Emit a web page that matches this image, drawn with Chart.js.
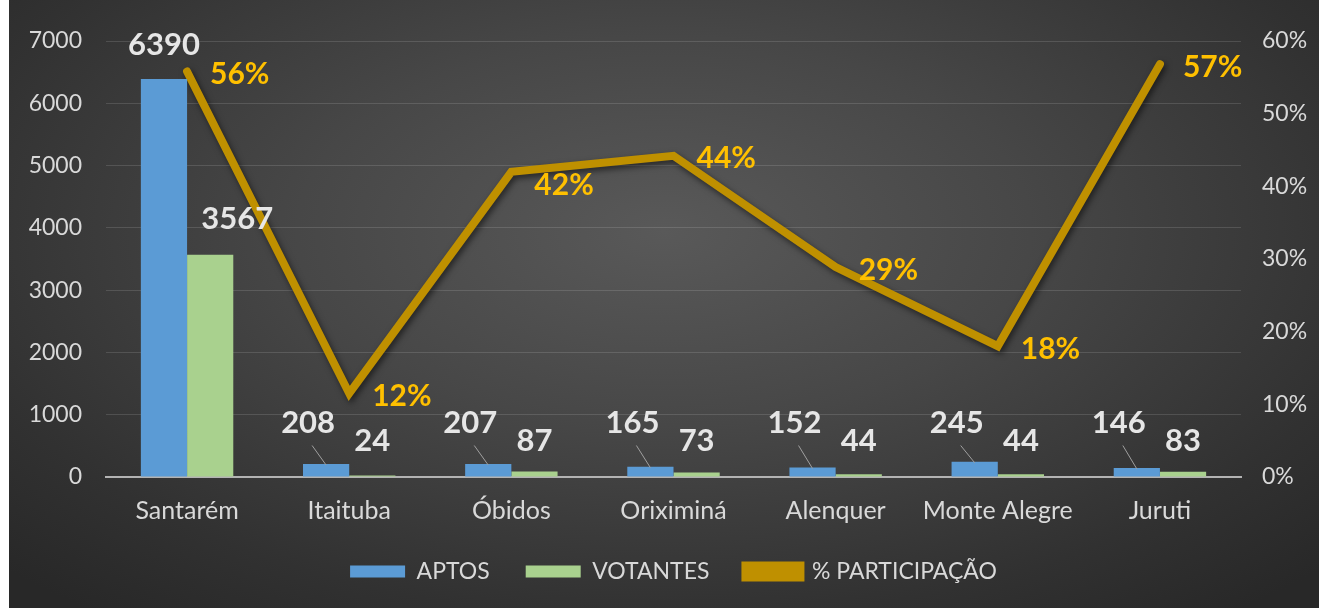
<!DOCTYPE html>
<html>
<head>
<meta charset="utf-8">
<script src="https://cdn.jsdelivr.net/npm/chart.js@4.4.1/dist/chart.umd.min.js"></script>
<style>
  html, body { margin: 0; padding: 0; background: #ffffff; }
  #wrap {
    position: absolute; left: 9px; top: 0; width: 1310px; height: 608px;
    background: radial-gradient(ellipse 70% 80% at 50% 38%, #595959 0%, #474747 40%, #313131 80%, #282828 100%);
  }
</style>
</head>
<body>
<div id="wrap"><canvas id="grafico"></canvas></div>
<script>
// Datos por municipio
const municipios = ['Santarém', 'Itaituba', 'Óbidos', 'Oriximiná', 'Alenquer', 'Monte Alegre', 'Juruti'];
const aptos = [6390, 208, 207, 165, 152, 245, 146];
const votantes = [3567, 24, 87, 73, 44, 44, 83];
const participacao = [0.558, 0.115, 0.42, 0.442, 0.289, 0.18, 0.568];

const ticksEsquerda = [0, 1000, 2000, 3000, 4000, 5000, 6000, 7000];
const ticksDireita = [0, 0.1, 0.2, 0.3, 0.4, 0.5, 0.6];

Chart.defaults.font.family = 'Lato';

const corTexto = '#d9d9d9';
const ouro = '#bf9000';

// sombra por baixo da linha
const sombraLinha = {
    id: 'sombraLinha',
    beforeDatasetDraw(chart, args) {
        if (args.index !== 2) return;
        const c = chart.ctx;
        c.save();
        c.shadowColor = 'rgba(0,0,0,0.55)';
        c.shadowBlur = 6;
        c.shadowOffsetX = 2;
        c.shadowOffsetY = 3;
    },
    afterDatasetDraw(chart, args) {
        if (args.index !== 2) return;
        chart.ctx.restore();
    }
};

// rótulos de valores
const rotulos = {
    id: 'rotulos',
    afterDatasetsDraw(chart) {
        const c = chart.ctx;
        c.save();
        c.textAlign = 'center';
        c.textBaseline = 'middle';

        const mAptos = chart.getDatasetMeta(0);
        const mVot = chart.getDatasetMeta(1);
        const mPart = chart.getDatasetMeta(2);

        c.font = 'bold 31px Lato';
        c.fillStyle = '#e6e6e6';
        mAptos.data.forEach((bar, i) => {
            const alto = bar.base - bar.y > 100;
            if (alto) {
                c.fillText(aptos[i], bar.x, bar.y - 34);
            } else {
                c.fillText(aptos[i], bar.x - 18, bar.base - 54);
                c.strokeStyle = '#a0a0a0';
                c.lineWidth = 1;
                c.beginPath();
                c.moveTo(bar.x - 14, bar.base - 31);
                c.lineTo(bar.x, bar.y + 1);
                c.stroke();
            }
        });
        mVot.data.forEach((bar, i) => {
            const alto = bar.base - bar.y > 100;
            if (alto) {
                c.fillText(votantes[i], bar.x + 27, bar.y - 36);
            } else {
                c.fillText(votantes[i], bar.x, bar.base - 36);
            }
        });

        const dy = [3, 3, 14, 3, 3, 3, 3];
        c.font = 'bold 30px Lato';
        c.fillStyle = '#ffc000';
        c.textAlign = 'left';
        mPart.data.forEach((pt, i) => {
            c.fillText(Math.round(participacao[i] * 100) + '%', pt.x + 23, pt.y + dy[i]);
        });
        c.restore();
    }
};

const ctx = document.getElementById('grafico').getContext('2d');
const grafico = new Chart(ctx, {
    type: 'bar',
    data: {
        labels: municipios,
        datasets: [
            {
                label: 'APTOS',
                data: aptos,
                backgroundColor: '#5b9bd5',
                yAxisID: 'y',
                categoryPercentage: 0.57,
                barPercentage: 1.0
            },
            {
                label: 'VOTANTES',
                data: votantes,
                backgroundColor: '#a9d18e',
                yAxisID: 'y',
                categoryPercentage: 0.57,
                barPercentage: 1.0
            },
            {
                type: 'line',
                label: '% PARTICIPAÇÃO',
                data: participacao,
                borderColor: ouro,
                backgroundColor: ouro,
                borderWidth: 8,
                borderCapStyle: 'round',
                borderJoinStyle: 'miter',
                tension: 0,
                pointRadius: 0,
                pointHoverRadius: 0,
                yAxisID: 'y1'
            }
        ]
    },
    options: {
        responsive: true,
        maintainAspectRatio: false,
        animation: false,
        layout: {
            padding: { top: 41, left: 0, right: 0, bottom: 15 }
        },
        scales: {
            x: {
                afterFit(scale) { scale.height = 47; },
                grid: { display: false, drawTicks: false },
                border: { display: true, color: '#b3b3b3', width: 2 },
                ticks: { color: corTexto, font: { size: 25 }, padding: 19 }
            },
            y: {
                position: 'left',
                min: 0,
                max: 7000,
                afterBuildTicks(scale) { scale.ticks = ticksEsquerda.map(v => ({ value: v })); },
                afterFit(scale) { scale.width = 97; },
                grid: { color: 'rgba(255,255,255,0.13)', lineWidth: 1, drawTicks: false },
                border: { display: false },
                ticks: { color: corTexto, font: { size: 23 }, padding: 24, callback: v => String(v) }
            },
            y1: {
                position: 'right',
                min: 0,
                max: 0.6,
                afterBuildTicks(scale) { scale.ticks = ticksDireita.map(v => ({ value: v })); },
                afterFit(scale) { scale.width = 78; },
                grid: { display: false, drawTicks: false },
                border: { display: false },
                ticks: {
                    color: corTexto,
                    font: { size: 23 },
                    padding: 21,
                    callback: v => Math.round(v * 100) + '%'
                }
            }
        },
        plugins: {
            legend: {
                position: 'bottom',
                fullSize: false,
                labels: {
                    color: corTexto,
                    font: { size: 23 },
                    boxWidth: 55,
                    boxHeight: 12,
                    padding: 36
                }
            },
            tooltip: { enabled: false }
        }
    },
    plugins: [sombraLinha, rotulos]
});
</script>
</body>
</html>
